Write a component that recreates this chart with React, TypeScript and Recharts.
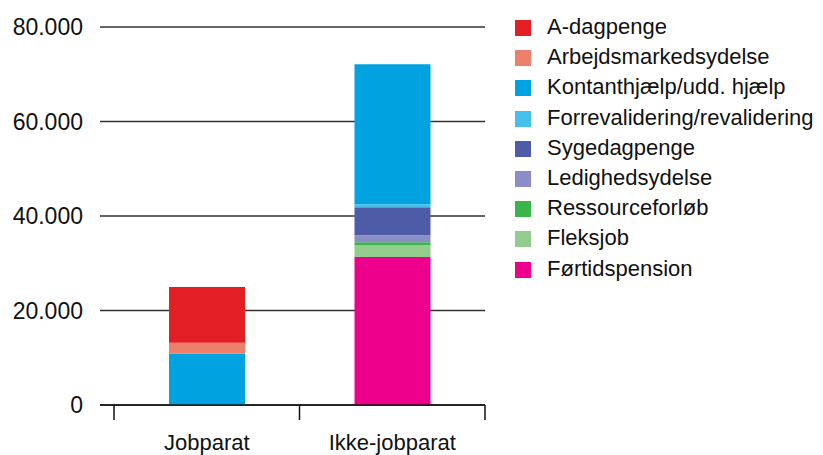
import { BarChart, Bar, XAxis, YAxis, CartesianGrid } from 'recharts';

// categories and series
const categories = ['Jobparat', 'Ikke-jobparat'];
const aDagpenge = [11800, 0];
const arbejdsmarkedsydelse = [2300, 0];
const kontanthjaelp = [10900, 29600];
const forrevalidering = [0, 650];
const sygedagpenge = [0, 5900];
const ledighedsydelse = [0, 1500];
const ressourceforloeb = [0, 650];
const fleksjob = [0, 2500];
const foertidspension = [0, 31300];
const yTicks = [0, 20000, 40000, 60000, 80000];

// legend order (top to bottom); bars stack in reverse
const series = [
  { key: 'aDagpenge', name: 'A-dagpenge', color: '#e31e24', values: aDagpenge },
  { key: 'arbejdsmarkedsydelse', name: 'Arbejdsmarkedsydelse', color: '#ec806a', values: arbejdsmarkedsydelse },
  { key: 'kontanthjaelp', name: 'Kontanthjælp/udd. hjælp', color: '#00a3e0', values: kontanthjaelp },
  { key: 'forrevalidering', name: 'Forrevalidering/revalidering', color: '#45c0ea', values: forrevalidering },
  { key: 'sygedagpenge', name: 'Sygedagpenge', color: '#4e5ba6', values: sygedagpenge },
  { key: 'ledighedsydelse', name: 'Ledighedsydelse', color: '#8b8ec6', values: ledighedsydelse },
  { key: 'ressourceforloeb', name: 'Ressourceforløb', color: '#3ab54a', values: ressourceforloeb },
  { key: 'fleksjob', name: 'Fleksjob', color: '#92cd8d', values: fleksjob },
  { key: 'foertidspension', name: 'Førtidspension', color: '#ec008c', values: foertidspension },
];

const chartData = categories.map((cat, i) => {
  const row: Record<string, string | number> = { category: cat };
  series.forEach(s => { row[s.key] = s.values[i]; });
  return row;
});

const FONT = '"Liberation Sans", Arial, Helvetica, sans-serif';
const TICK_SIZE = 15;
const TICK_MARGIN = 14;

const fmt = (v: number) => String(v).replace(/\B(?=(\d{3})+(?!\d))/g, '.');

// category label plus tick marks at the band edges
function CategoryTick(props: any) {
  const { x, y, payload, index, visibleTicksCount } = props;
  const half = payload?.offset ?? 92.75;
  const axisY = y - TICK_SIZE - TICK_MARGIN;
  return (
    <g>
      <line x1={x - half} x2={x - half} y1={axisY} y2={axisY + TICK_SIZE} stroke="#111" strokeWidth={1.5} />
      {index === visibleTicksCount - 1 && (
        <line x1={x + half} x2={x + half} y1={axisY} y2={axisY + TICK_SIZE} stroke="#111" strokeWidth={1.5} />
      )}
      <text x={x} y={y} dy="0.71em" textAnchor="middle" fill="#111" fontSize={22} fontFamily={FONT}>
        {payload.value}
      </text>
    </g>
  );
}

export default function App() {
  return (
    <div style={{ position: 'absolute', left: 0, top: 0, width: 823, height: 455, background: '#fff' }}>
      <BarChart
        width={823}
        height={455}
        data={chartData}
        margin={{ top: 27, right: 338, left: 0, bottom: 0 }}
      >
        <CartesianGrid vertical={false} stroke="#333" strokeWidth={1.3} />
        <YAxis
          width={100}
          domain={[0, 80000]}
          ticks={yTicks}
          tickFormatter={fmt}
          axisLine={false}
          tickLine={false}
          tickMargin={11}
          tick={{ fill: '#111', fontSize: 23, fontFamily: FONT }}
        />
        <XAxis
          dataKey="category"
          height={50}
          padding={{ left: 14, right: 0 }}
          axisLine={{ stroke: '#111', strokeWidth: 1.5 }}
          tickLine={false}
          tickSize={TICK_SIZE}
          tickMargin={TICK_MARGIN}
          tick={<CategoryTick />}
          interval={0}
        />
        {[...series].reverse().map(s => (
          <Bar
            key={s.key}
            dataKey={s.key}
            name={s.name}
            stackId="a"
            fill={s.color}
            barSize={76}
            isAnimationActive={false}
          />
        ))}
      </BarChart>
      <div style={{ position: 'absolute', left: 515, top: 20, fontFamily: FONT, fontSize: 22, color: '#111' }}>
        {series.map(s => (
          <div key={s.key} style={{ display: 'flex', alignItems: 'center', height: 30.2 }}>
            <span style={{ width: 16, height: 16, background: s.color, display: 'inline-block', marginRight: 16, alignSelf: 'flex-start' }} />
            <span style={{ lineHeight: '16px', alignSelf: 'flex-start', marginTop: -1, whiteSpace: 'nowrap' }}>{s.name}</span>
          </div>
        ))}
      </div>
    </div>
  );
}
